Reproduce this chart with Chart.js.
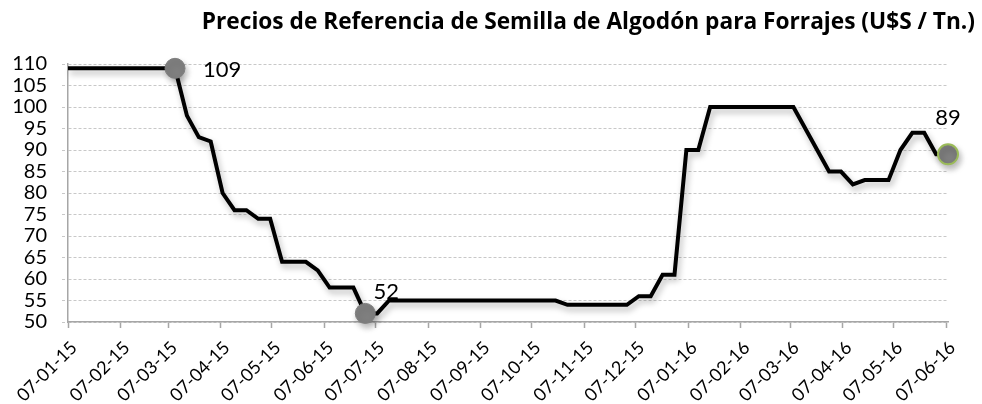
<!DOCTYPE html>
<html><head><meta charset="utf-8">
<script src="https://cdn.jsdelivr.net/npm/chart.js@4.4.1/dist/chart.umd.min.js"></script>
<style>html,body{margin:0;padding:0;background:#fff}#wrap{width:982px;height:404px;position:relative}</style>
</head><body><div id="wrap"><canvas id="c"></canvas></div>
<script>
const chartTitle = 'Precios de Referencia de Semilla de Algodón para Forrajes (U$S / Tn.)';
const dates = ['2015-01-07','2015-03-11','2015-03-18','2015-03-25','2015-04-01','2015-04-08','2015-04-15','2015-04-22','2015-04-29','2015-05-06','2015-05-13','2015-05-27','2015-06-03','2015-06-10','2015-06-24','2015-07-01','2015-07-08','2015-07-15','2015-10-21','2015-10-28','2015-12-02','2015-12-09','2015-12-16','2015-12-23','2015-12-30','2016-01-06','2016-01-13','2016-01-20','2016-03-09','2016-03-30','2016-04-06','2016-04-13','2016-04-20','2016-05-04','2016-05-11','2016-05-18','2016-05-25','2016-06-01','2016-06-08'];
const prices = [109,109,98,93,92,80,76,76,74,74,64,64,62,58,58,52,52,55,55,54,54,56,56,61,61,90,90,100,100,85,85,82,83,83,90,94,94,89,89];
const tickLabels = ['07-01-15','07-02-15','07-03-15','07-04-15','07-05-15','07-06-15','07-07-15','07-08-15','07-09-15','07-10-15','07-11-15','07-12-15','07-01-16','07-02-16','07-03-16','07-04-16','07-05-16','07-06-16'];
const yTicks = [50,55,60,65,70,75,80,85,90,95,100,105,110];
const markedDates = ['2015-03-11','2015-07-01','2016-06-08'];

const DAY = 86400000;
const origin = Date.UTC(2015,0,7);
function dayOfIso(iso){const [y,m,d]=iso.split('-').map(Number);return Math.round((Date.UTC(y,m-1,d)-origin)/DAY);}
function dayOfLabel(l){const [d,m,y]=l.split('-').map(Number);return Math.round((Date.UTC(2000+y,m-1,d)-origin)/DAY);}
const points = dates.map((d,i)=>({x:dayOfIso(d), y:prices[i]}));
const tickDays = tickLabels.map(dayOfLabel);
const labelByDay = {}; tickDays.forEach((d,i)=>labelByDay[d]=tickLabels[i]);
const markedIdx = markedDates.map(d=>dates.indexOf(d));
const lastIdx = dates.length-1;
// label placement style for each marked point: [align, dx, dy]
const labelStyle = [['left',28,2],['center',21,-21],['center',0,-36]];

const FONT = 'Lato';
const shadowPlugin = {
  id:'shadow',
  beforeDatasetDraw(chart){const c=chart.ctx;c.save();c.shadowColor='rgba(0,0,0,0.28)';c.shadowBlur=6;c.shadowOffsetX=2;c.shadowOffsetY=4;},
  afterDatasetDraw(chart){chart.ctx.restore();}
};
const labelPlugin = {
  id:'pointLabels',
  afterDatasetsDraw(chart){
    const c=chart.ctx, meta=chart.getDatasetMeta(0);
    c.save(); c.fillStyle='#000'; c.font='22px '+FONT; c.textBaseline='middle';
    markedIdx.forEach((idx,k)=>{
      const el=meta.data[idx]; const [al,dx,dy]=labelStyle[k];
      c.textAlign=al; c.fillText(String(prices[idx]), el.x+dx, el.y+dy);
    });
    c.restore();
  }
};

new Chart(document.getElementById('c'), {
  type:'line',
  data:{datasets:[{
    data:points, clip:false,
    borderColor:'#000', borderWidth:4, tension:0, fill:false,
    pointRadius:(ctx)=>markedIdx.includes(ctx.index)?10:0,
    pointHoverRadius:(ctx)=>markedIdx.includes(ctx.index)?10:0,
    pointBackgroundColor:'#7f7f7f',
    pointBorderColor:(ctx)=>ctx.index===lastIdx?'#9bbb59':'#7f7f7f',
    pointBorderWidth:(ctx)=>ctx.index===lastIdx?2:1
  }]},
  options:{
    responsive:true, maintainAspectRatio:false, animation:false, events:[],
    layout:{padding:{left:0,right:7,top:0,bottom:0}},
    plugins:{
      legend:{display:false}, tooltip:{enabled:false},
      title:{display:true, text:chartTitle, align:'end', color:'#000',
        font:{family:'Open Sans', size:22.7, weight:'bold', lineHeight:1.2}, padding:{top:9,bottom:27.8}}
    },
    scales:{
      x:{type:'linear', min:points[0].x, max:points[lastIdx].x,
        afterBuildTicks:(s)=>{s.ticks=tickDays.map(v=>({value:v}));},
        afterFit:(s)=>{s.height=82; s.paddingRight=34;},
        ticks:{autoSkip:false, minRotation:45, maxRotation:45, color:'#000', padding:9, labelOffset:6,
          font:{family:FONT,size:18}, callback:(v)=>labelByDay[v]||''},
        grid:{display:true, drawOnChartArea:false, drawTicks:true, tickLength:6, tickColor:'#a6a6a6', tickWidth:1.5},
        border:{display:true, color:'#a6a6a6', width:1.5}
      },
      y:{min:yTicks[0], max:yTicks[yTicks.length-1],
        afterBuildTicks:(s)=>{s.ticks=yTicks.map(v=>({value:v}));},
        afterFit:(s)=>{s.width=68;},
        ticks:{autoSkip:false, color:'#000', padding:15, font:{family:FONT,size:20,lineHeight:1}},
        grid:{color:'#c8c8c8', lineWidth:1, tickLength:6, tickColor:'#c8c8c8', tickBorderDash:[3,2]},
        border:{display:true, color:'#a6a6a6', width:1.5, dash:[3,2]}
      }
    }
  },
  plugins:[shadowPlugin,labelPlugin]
});
</script></body></html>
